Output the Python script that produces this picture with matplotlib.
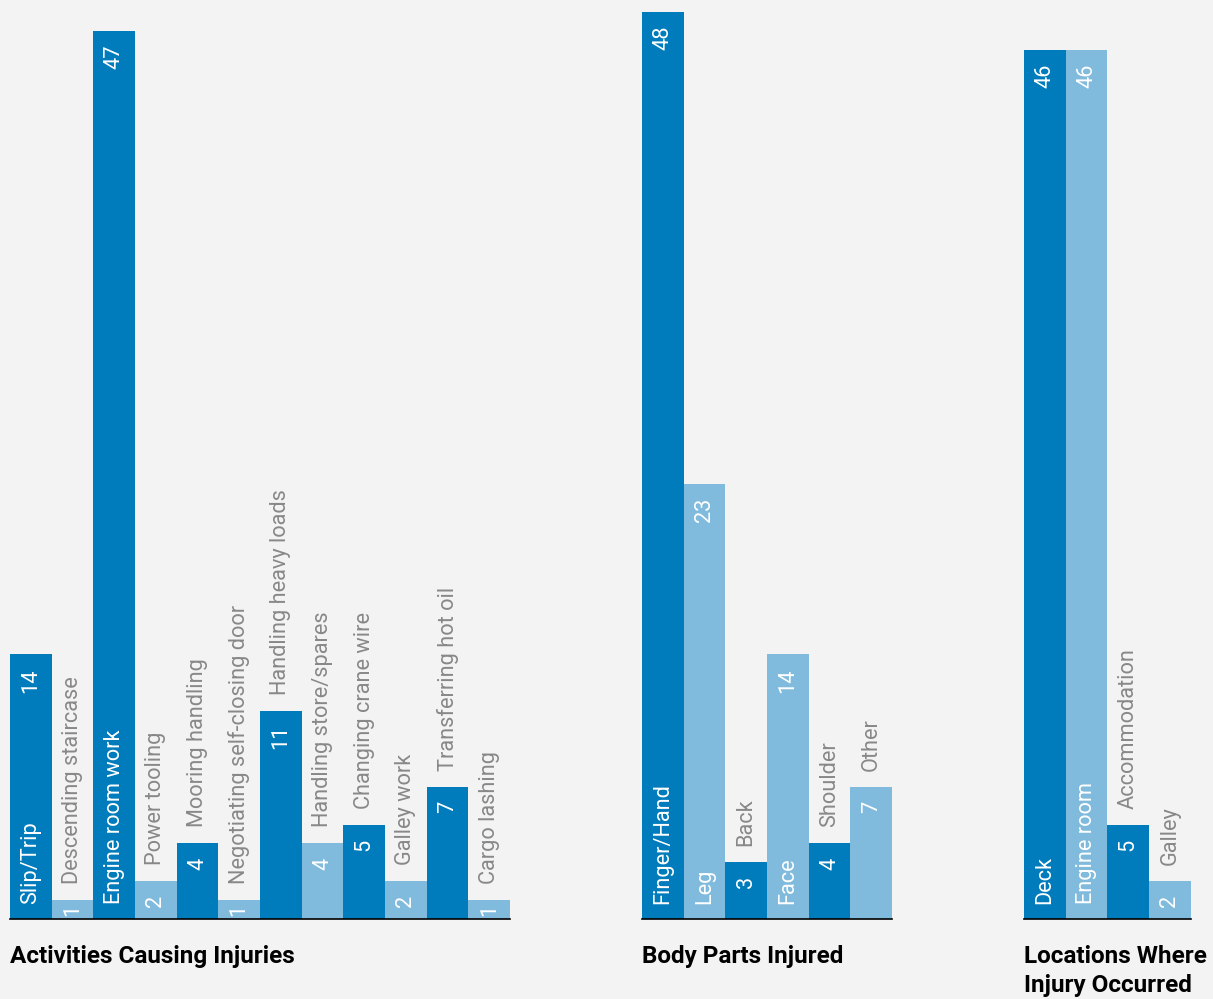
import matplotlib
matplotlib.use("Agg")
import matplotlib.pyplot as plt

plt.rcParams['font.family'] = ['Roboto', 'DejaVu Sans']

activities = ["Slip/Trip", "Descending staircase", "Engine room work", "Power tooling",
              "Mooring handling", "Negotiating self-closing door", "Handling heavy loads",
              "Handling store/spares", "Changing crane wire", "Galley work",
              "Transferring hot oil", "Cargo lashing"]
activity_counts = [14, 1, 47, 2, 4, 1, 11, 4, 5, 2, 7, 1]

body_parts = ["Finger/Hand", "Leg", "Back", "Face", "Shoulder", "Other"]
body_counts = [48, 23, 3, 14, 4, 7]

locations = ["Deck", "Engine room", "Accommodation", "Galley"]
location_counts = [46, 46, 5, 2]

titles = [["Activities Causing Injuries"], ["Body Parts Injured"],
          ["Locations Where", "Injury Occurred"]]

DARK = '#007bbb'
LIGHT = '#80bbdd'
BG = '#f3f3f3'
GREY = '#888888'

W, H = 1213, 999
fig = plt.figure(figsize=(W / 100, H / 100), dpi=100, facecolor=BG)

base_px = 919
px_per_unit = 18.9
bar_px = 41.67
fs = 15.7
fs_px = fs * 100 / 72

panels = [(10, activities, activity_counts),
          (642, body_parts, body_counts),
          (1024, locations, location_counts)]

for (left, cats, vals), title in zip(panels, titles):
    n = len(cats)
    ax = fig.add_axes([left / W, (H - base_px) / H, n * bar_px / W, base_px / H])
    ax.patch.set_alpha(0)
    xs = list(range(n))
    cols = [DARK if i % 2 == 0 else LIGHT for i in xs]
    ax.bar(xs, vals, width=1.0, color=cols, linewidth=0)
    ax.set_xlim(-0.5, n - 0.5)
    ax.set_ylim(0, base_px / px_per_unit)
    ax.axhline(0, color='black', lw=1.2, clip_on=False, zorder=1)
    ax.axis('off')

    for x, v, c in zip(xs, vals, cats):
        # value label near the top of the bar, pushed up if the bar is too short
        need = 16 + 0.56 * len(str(v)) * fs_px + 2
        if v * px_per_unit >= need:
            ax.annotate(str(v), (x, v), xytext=(0, -10), textcoords='offset points',
                        rotation=90, ha='center', va='top', color='white', fontsize=fs)
        else:
            ax.annotate(str(v), (x, 0), xytext=(0, 2.5), textcoords='offset points',
                        rotation=90, ha='center', va='bottom', color='white', fontsize=fs)
        if v >= 12:
            ax.annotate(c, (x, 0), xytext=(0, 10.5), textcoords='offset points',
                        rotation=90, ha='center', va='bottom', color='white', fontsize=fs)
        else:
            ax.annotate(c, (x, v), xytext=(0, 11.5), textcoords='offset points',
                        rotation=90, ha='center', va='bottom', color=GREY, fontsize=fs)

    for k, line in enumerate(title):
        fig.text(left / W, (H - 963 - 29 * k) / H, line, fontsize=17.5, fontweight='bold',
                 color='black', ha='left', va='baseline')

fig.savefig('out.png', dpi=100, facecolor=BG)
